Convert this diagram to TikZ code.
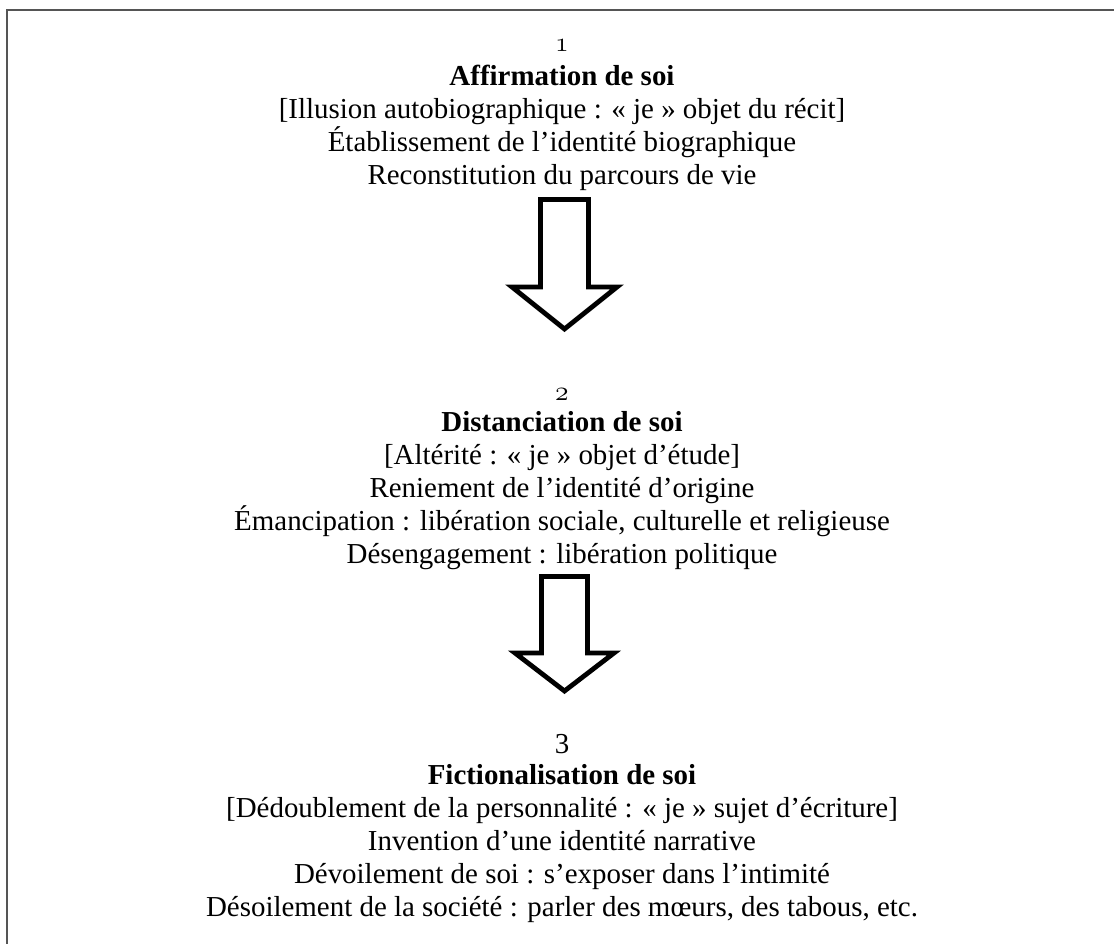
\documentclass[tikz,border=0pt]{standalone}
\usepackage{fontspec}
\setmainfont{Liberation Serif}
\tikzset{every picture/.style={line width=0.75pt}}
\tikzset{
  txt/.style={inner sep=0pt, anchor=base, font=\fontsize{21.7}{26}\selectfont},
  ttl/.style={txt, font=\fontsize{21.7}{26}\selectfont\bfseries},
  blockarrow/.style={line width=3.6pt, line join=miter, fill=white},
}
\newcommand{\oldnum}[1]{{\fontsize{21}{25}\usefont{OML}{cmm}{m}{it}#1}}

\begin{document}
\begin{tikzpicture}[x=0.75pt,y=0.75pt,yscale=-1,xscale=1]
\path[use as bounding box] (0,0) rectangle (1114,943);

%Frame
\draw [color={rgb, 255:red, 85; green, 85; blue, 85 }, line width=1.5pt] (7,960) -- (7,10) -- (1130,10) ;

%Block arrow 1
\draw [blockarrow] (540.5,199.5) -- (588.5,199.5) -- (588.5,287) -- (617,287) -- (564.5,329) -- (512,287) -- (540.5,287) -- cycle ;
%Block arrow 2
\draw [blockarrow] (541.5,576.5) -- (587.5,576.5) -- (587.5,653) -- (614,653) -- (564.5,691) -- (515,653) -- (541.5,653) -- cycle ;

% Text Node
\node [txt] (n1) at (562,51) {\oldnum{1}};
\node [ttl] (t1) at (562,85) {Affirmation de soi};
\node [txt] (a1) at (562,118) {[Illusion autobiographique : « je » objet du récit]};
\node [txt] (b1) at (562,151) {Établissement de l’identité biographique};
\node [txt] (c1) at (562,184) {Reconstitution du parcours de vie};
% Text Node
\node [txt] (n2) at (562,400) {\oldnum{2}};
\node [ttl] (t2) at (562,431) {Distanciation de soi};
\node [txt] (a2) at (562,464) {[Altérité : « je » objet d’étude]};
\node [txt] (b2) at (562,497) {Reniement de l’identité d’origine};
\node [txt] (c2) at (562,530) {Émancipation : libération sociale, culturelle et religieuse};
\node [txt] (d2) at (562,563) {Désengagement : libération politique};
% Text Node
\node [txt] (n3) at (562,753) {3};
\node [ttl] (t3) at (562,784) {Fictionalisation de soi};
\node [txt] (a3) at (562,817) {[Dédoublement de la personnalité : « je » sujet d’écriture]};
\node [txt] (b3) at (562,850) {Invention d’une identité narrative};
\node [txt] (c3) at (562,883) {Dévoilement de soi : s’exposer dans l’intimité};
\node [txt] (d3) at (562,916) {Désoilement de la société : parler des mœurs, des tabous, etc.};

\end{tikzpicture}
\end{document}
